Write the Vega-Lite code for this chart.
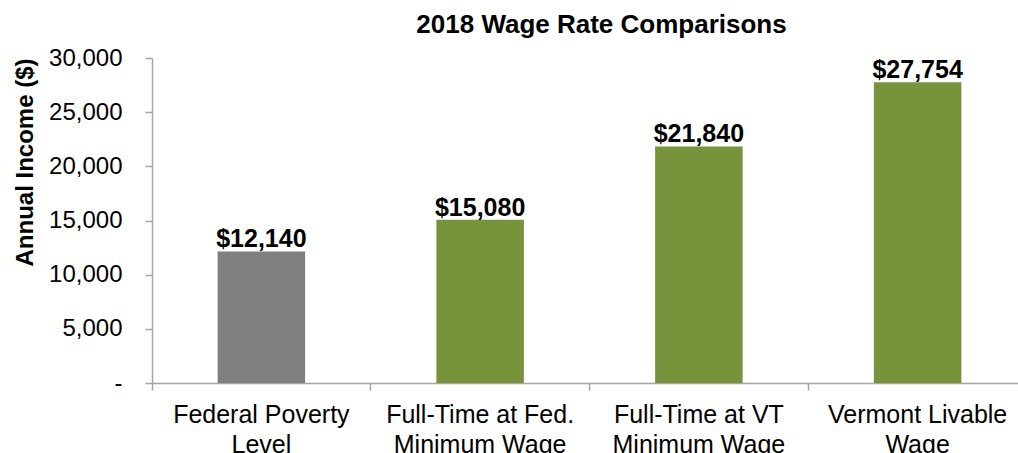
{
  "$schema": "https://vega.github.io/schema/vega-lite/v6.json",
  "width": 875,
  "height": 325,
  "autosize": {"type": "none"},
  "padding": {"left": 152, "top": 58, "right": 0, "bottom": 70},
  "background": "white",
  "title": {
    "text": "2018 Wage Rate Comparisons",
    "font": "Liberation Sans",
    "fontSize": 26,
    "fontWeight": "bold",
    "color": "#000000",
    "anchor": "middle",
    "frame": "group",
    "dx": 12,
    "dy": -4
  },
  "data": {
    "values": [
      {"category": "Federal Poverty Level", "kind": "Poverty", "value": 12140},
      {"category": "Full-Time at Fed. Minimum Wage", "kind": "Wage", "value": 15080},
      {"category": "Full-Time at VT Minimum Wage", "kind": "Wage", "value": 21840},
      {"category": "Vermont Livable Wage", "kind": "Wage", "value": 27754}
    ]
  },
  "config": {
    "view": {"stroke": null},
    "axis": {
      "labelFont": "Liberation Sans",
      "titleFont": "Liberation Sans",
      "labelColor": "#000000",
      "titleColor": "#000000",
      "domainColor": "#A6A6A6",
      "tickColor": "#A6A6A6",
      "domainWidth": 1.5,
      "tickWidth": 1.5,
      "grid": false
    }
  },
  "encoding": {
    "x": {
      "field": "category",
      "type": "nominal",
      "sort": null,
      "scale": {"paddingInner": 0, "paddingOuter": 0},
      "axis": {
        "title": null,
        "labelAngle": 0,
        "labelFontSize": 25,
        "labelLineHeight": 30,
        "labelPadding": 12,
        "labelLimit": 400,
        "tickSize": 7,
        "bandPosition": 0,
        "labelExpr": "datum.value == 'Federal Poverty Level' ? ['Federal Poverty', 'Level'] : datum.value == 'Full-Time at Fed. Minimum Wage' ? ['Full-Time at Fed.', 'Minimum Wage'] : datum.value == 'Full-Time at VT Minimum Wage' ? ['Full-Time at VT', 'Minimum Wage'] : ['Vermont Livable', 'Wage']"
      }
    },
    "y": {
      "field": "value",
      "type": "quantitative",
      "scale": {"domain": [0, 30000], "nice": false},
      "axis": {
        "title": "Annual Income ($)",
        "titleFontSize": 24,
        "titleFontWeight": "bold",
        "titleAngle": -90,
        "titleAlign": "center",
        "titleBaseline": "alphabetic",
        "titleX": -120,
        "titleY": 104,
        "values": [0, 5000, 10000, 15000, 20000, 25000, 30000],
        "labelFontSize": 24,
        "tickSize": 7,
        "labelPadding": 23,
        "labelExpr": "datum.value == 0 ? '-\u00a0\u00a0' : format(datum.value, ',')"
      }
    }
  },
  "layer": [
    {
      "mark": {"type": "bar", "width": {"band": 0.4}},
      "encoding": {
        "color": {
          "field": "kind",
          "type": "nominal",
          "scale": {"domain": ["Poverty", "Wage"], "range": ["#7F7F7F", "#77933C"]},
          "legend": null
        }
      }
    },
    {
      "mark": {
        "type": "text",
        "font": "Liberation Sans",
        "fontSize": 25,
        "fontWeight": "bold",
        "color": "#000000",
        "baseline": "alphabetic",
        "dy": -4
      },
      "encoding": {
        "text": {"field": "value", "type": "quantitative", "format": "$,"}
      }
    }
  ]
}
